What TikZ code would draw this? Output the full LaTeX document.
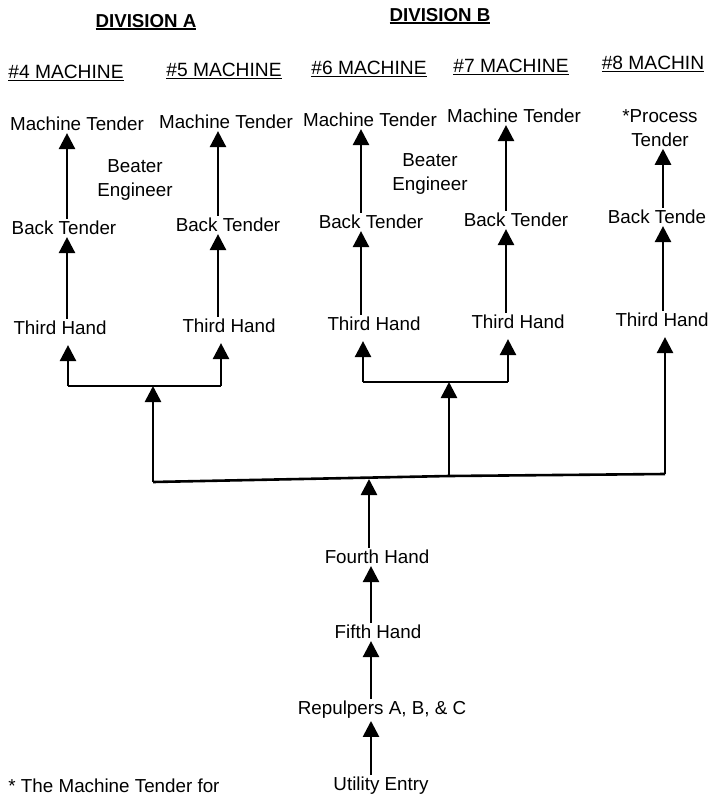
\documentclass[tikz,border=0pt]{standalone}
\usepackage{fontspec}
\setmainfont{Liberation Sans}
\usetikzlibrary{arrows.meta}
\newcommand\myuln[1]{\setbox0\hbox{#1}\rlap{\rule[-3pt]{\wd0}{1.6pt}}\box0}
\begin{document}
\begin{tikzpicture}[x=1pt,y=-1pt,
 lbl/.style={inner sep=2pt, font=\fontsize{18.8}{24}\selectfont, align=center},
 hd/.style={inner sep=2pt, font=\fontsize{19.2}{22}\selectfont},
 dv/.style={inner sep=2pt, font=\fontsize{18.7}{22}\selectfont\bfseries},
 arr/.style={line width=2.6pt, -{Triangle[width=16pt,length=16pt]}},
 ln/.style={line width=2.6pt}]
\useasboundingbox (0,0) rectangle (712,797);
% headings
\node[dv] (diva) at (146,22) {\myuln{DIVISION A}};
\node[dv] (divb) at (440,16) {\myuln{DIVISION B}};
\node[hd] (h4) at (66,73) {\myuln{\#4 MACHINE}};
\node[hd] (h5) at (224,71) {\myuln{\#5 MACHINE}};
\node[hd] (h6) at (369,69) {\myuln{\#6 MACHINE}};
\node[hd] (h7) at (511,67) {\myuln{\#7 MACHINE}};
\node[hd] (h8) at (653,64) {\myuln{\#8 MACHIN}};
% machine tenders
\node[lbl] (mt4) at (77,124) {Machine Tender};
\node[lbl] (mt5) at (226,122) {Machine Tender};
\node[lbl] (mt6) at (370,120) {Machine Tender};
\node[lbl] (mt7) at (514,116) {Machine Tender};
\node[lbl] (mt8) at (660,128) {*Process\\Tender};
% beater engineers
\node[lbl] (be1) at (135,180) {Beater\\Engineer};
\node[lbl] (be2) at (430,174) {Beater\\Engineer};
% back tenders
\node[lbl] (bt4) at (64,228) {Back Tender};
\node[lbl] (bt5) at (228,225) {Back Tender};
\node[lbl] (bt6) at (371,222) {Back Tender};
\node[lbl] (bt7) at (516,220) {Back Tender};
\node[lbl] (bt8) at (657,217) {Back Tende};
% third hands
\node[lbl] (th4) at (60,328) {Third Hand};
\node[lbl] (th5) at (229,326) {Third Hand};
\node[lbl] (th6) at (374,324) {Third Hand};
\node[lbl] (th7) at (518,322) {Third Hand};
\node[lbl] (th8) at (662,320) {Third Hand};
% lower chain
\node[lbl] (fourth) at (377,557) {Fourth Hand};
\node[lbl] (fifth) at (378,632) {Fifth Hand};
\node[lbl] (rep) at (382,710) {Repulpers A, B, \& C};
\node[lbl] (util) at (381,786) {Utility Entry};
\node[lbl] (note) at (114,786) {* The Machine Tender for};
% column coordinates
\coordinate (c4) at (67,0);
\coordinate (c5) at (218,0);
\coordinate (c6) at (361,0);
\coordinate (c7) at (506,0);
\coordinate (c8) at (663,0);
\coordinate (cm) at (371,0);
% upper arrows
\foreach \c in {4,5,6,7,8}{
  \draw[arr] (bt\c.north -| c\c) -- (mt\c.south -| c\c);
  \draw[arr] (th\c.north -| c\c) -- (bt\c.south -| c\c);
}
% brackets
\coordinate (la) at (68,386);
\coordinate (lb) at (221,386);
\coordinate (lm) at (153,386);
\coordinate (ra) at (363,382);
\coordinate (rb) at (508,382);
\coordinate (rm) at (449,382);
\coordinate (m1) at (153,482);
\coordinate (m2) at (449,476);
\coordinate (m3) at (665,474);
\coordinate (m0) at (369,479);
\draw[ln] (lm) -- (la);
\draw[ln] (lm) -- (lb);
\draw[arr,shorten >=8pt] (la) -- (th4.south -| la);
\draw[arr,shorten >=8pt] (lb) -- (th5.south -| lb);
\draw[ln] (rm) -- (ra);
\draw[ln] (rm) -- (rb);
\draw[arr,shorten >=8pt] (ra) -- (th6.south -| ra);
\draw[arr,shorten >=8pt] (rb) -- (th7.south -| rb);
\draw[ln] (m1) -- (m2) -- (m3);
\draw[arr] (m1) -- (lm);
\draw[arr] (m2) -- (rm);
\draw[arr,shorten >=8pt] (m3) -- (th8.south -| m3);
% lower chain arrows
\draw[arr] (fourth.north -| m0) -- (m0);
\draw[arr] (fifth.north -| cm) -- (fourth.south -| cm);
\draw[arr] (rep.north -| cm) -- (fifth.south -| cm);
\draw[arr] (util.north -| cm) -- (rep.south -| cm);
\end{tikzpicture}
\end{document}
